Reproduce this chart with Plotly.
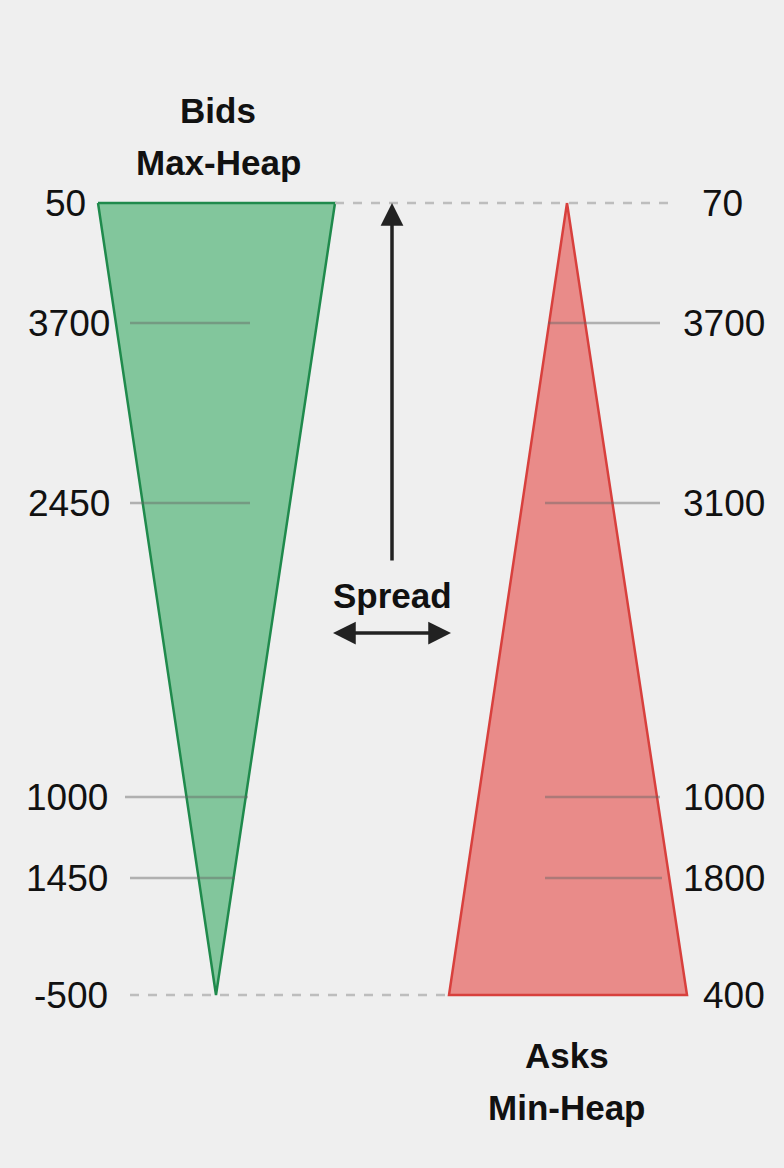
import plotly.graph_objects as go

# ---- data ----
bid_labels = ["50", "3700", "2450", "1000", "1450", "-500"]
ask_labels = ["70", "3700", "3100", "1000", "1800", "400"]
level_y = [203, 323, 503, 797, 878, 995]          # vertical level positions (depth)
bid_tri_x = [98, 335, 216]                         # top-left, top-right, apex
bid_tri_y = [203, 203, 995]
ask_tri_x = [567, 687, 449]                        # apex, base-right, base-left
ask_tri_y = [203, 995, 995]
bid_line_x0 = [130, 130, 125, 130]
bid_line_x1 = [250, 250, 248, 235]
ask_line_x0 = [548, 545, 545, 545]
ask_line_x1 = [660, 660, 660, 662]

BG = "#efefef"
fig = go.Figure()

fig.add_trace(go.Scatter(x=bid_tri_x + [bid_tri_x[0]], y=bid_tri_y + [bid_tri_y[0]],
                         mode="lines", fill="toself", fillcolor="rgba(115,192,145,0.88)",
                         line=dict(color="#1f8a4c", width=2.5), hoverinfo="skip"))
fig.add_trace(go.Scatter(x=ask_tri_x + [ask_tri_x[0]], y=ask_tri_y + [ask_tri_y[0]],
                         mode="lines", fill="toself", fillcolor="rgba(232,128,125,0.9)",
                         line=dict(color="#d8403d", width=2.5), hoverinfo="skip"))

shapes = []
for i in range(4):
    y = level_y[i + 1]
    shapes.append(dict(type="line", x0=bid_line_x0[i], x1=bid_line_x1[i], y0=y, y1=y,
                       line=dict(color="rgba(100,100,100,0.45)", width=2.5)))
    shapes.append(dict(type="line", x0=ask_line_x0[i], x1=ask_line_x1[i], y0=y, y1=y,
                       line=dict(color="rgba(100,100,100,0.45)", width=2.5)))
shapes.append(dict(type="line", x0=bid_tri_x[1], x1=670, y0=level_y[0], y1=level_y[0],
                   line=dict(color="#bdbdbd", width=2.5, dash="dash")))
shapes.append(dict(type="line", x0=130, x1=ask_tri_x[2], y0=level_y[-1], y1=level_y[-1],
                   line=dict(color="#bdbdbd", width=2.5, dash="dash")))
shapes.append(dict(type="line", x0=345, x1=439, y0=633, y1=633,
                   line=dict(color="#222", width=3.5)))

annotations = []
num_font = dict(size=37, color="#111", family="Liberation Sans")
bid_label_right = [88, 112, 112, 110, 110, 110]
for lab, y, xr in zip(bid_labels, level_y, bid_label_right):
    annotations.append(dict(x=xr, y=y, text=lab, showarrow=False, xanchor="right",
                            yanchor="middle", font=num_font))
ask_label_right = [745, 767, 767, 767, 767, 767]
for lab, y, xr in zip(ask_labels, level_y, ask_label_right):
    annotations.append(dict(x=xr, y=y, text=lab, showarrow=False, xanchor="right",
                            yanchor="middle", font=num_font))

title_font = dict(size=35, color="#111", family="Liberation Sans")
annotations += [
    dict(x=218, y=110, text="<b>Bids</b>", showarrow=False, font=title_font),
    dict(x=218, y=162, text="<b>Max-Heap</b>", showarrow=False, font=title_font),
    dict(x=567, y=1055, text="<b>Asks</b>", showarrow=False, font=title_font),
    dict(x=567, y=1107, text="<b>Min-Heap</b>", showarrow=False, font=title_font),
    dict(x=392, y=595, text="<b>Spread</b>", showarrow=False, font=title_font),
]
arrow = dict(xref="x", yref="y", axref="x", ayref="y", text="", showarrow=True,
             arrowhead=2, arrowsize=1.3, arrowwidth=3.5, arrowcolor="#222",
             startstandoff=0, standoff=0)
annotations.append(dict(x=392, y=203, ax=392, ay=562, **arrow))
annotations.append(dict(x=333, y=633, ax=350, ay=633, **arrow))
annotations.append(dict(x=451, y=633, ax=434, ay=633, **arrow))

fig.update_layout(
    width=784, height=1168, margin=dict(l=0, r=0, t=0, b=0),
    paper_bgcolor=BG, plot_bgcolor=BG, showlegend=False,
    xaxis=dict(range=[0, 784], visible=False, fixedrange=True),
    yaxis=dict(range=[1168, 0], visible=False, fixedrange=True),
    shapes=shapes, annotations=annotations,
)
fig.write_html("out.html", config={"displayModeBar": False, "staticPlot": True})

with open("out.html", encoding="utf-8") as f:
    html = f.read()
html = html.replace("<head>", "<head><style>html,body{margin:0;padding:0;overflow:hidden;background:#efefef;}</style>", 1)
with open("out.html", "w", encoding="utf-8") as f:
    f.write(html)
